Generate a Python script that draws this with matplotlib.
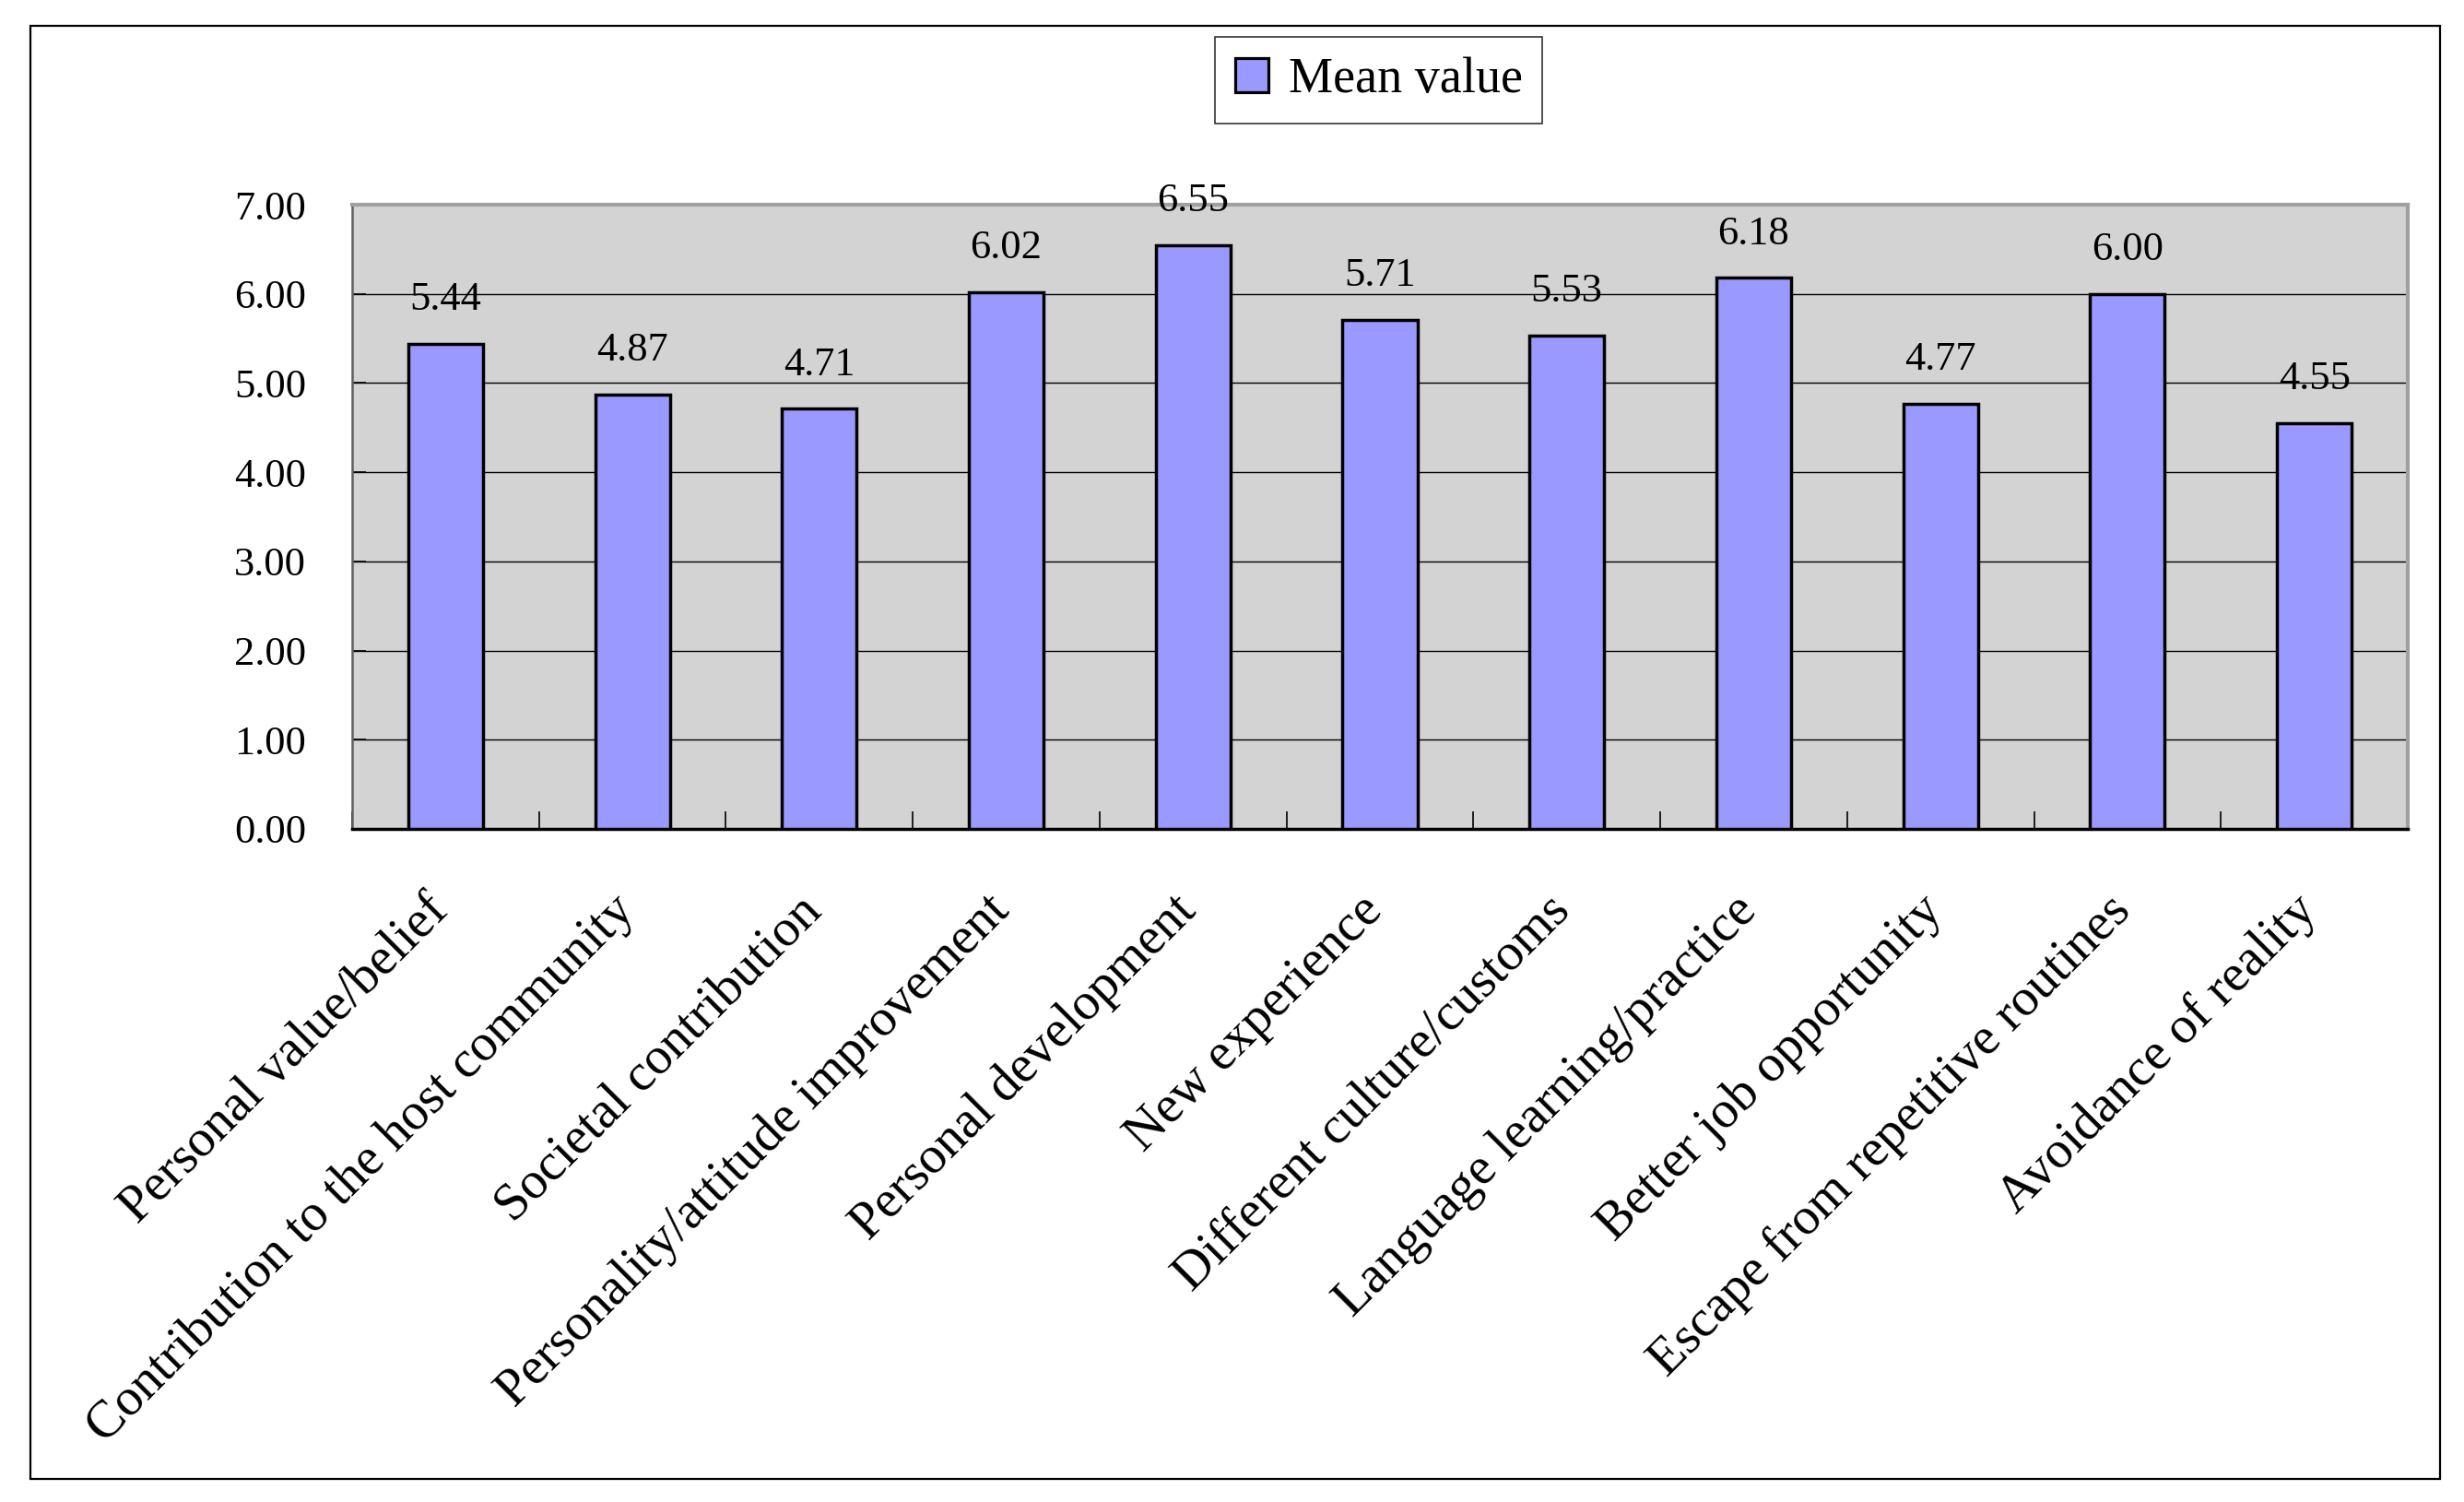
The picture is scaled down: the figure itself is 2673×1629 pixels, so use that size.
import matplotlib
matplotlib.use("Agg")
import matplotlib.pyplot as plt
from matplotlib.patches import Rectangle, Patch
import numpy as np

categories = [
    "Personal value/belief",
    "Contribution to the host community",
    "Societal contribution",
    "Personality/attitude improvement",
    "Personal development",
    "New experience",
    "Different culture/customs",
    "Language learning/practice",
    "Better job opportunity",
    "Escape from repetitive routines",
    "Avoidance of reality",
]
mean_values = [5.44, 4.87, 4.71, 6.02, 6.55, 5.71, 5.53, 6.18, 4.77, 6.00, 4.55]
y_ticks = [0, 1, 2, 3, 4, 5, 6, 7]
series_name = "Mean value"

plt.rcParams['font.family'] = ['Liberation Serif', 'DejaVu Serif']

W, H = 2673, 1629
fig = plt.figure(figsize=(W / 100, H / 100), dpi=100)

# outer chart border
fig.patches.append(Rectangle((33 / W, 1 - 1604 / H), (2647 - 33) / W, (1604 - 28) / H,
                             transform=fig.transFigure, fill=False, edgecolor='black',
                             linewidth=1.6, zorder=0))

ax = fig.add_axes([382 / W, 1 - 899 / H, (2612 - 382) / W, (899 - 222) / H])
ax.set_facecolor('#D3D3D3')

x = np.arange(len(categories))
bars = ax.bar(x, mean_values, width=0.4, color='#9999FF', edgecolor='black',
              linewidth=2.5, zorder=3)

for xi, v in zip(x, mean_values):
    ax.annotate(f"{v:.2f}", (xi, v), xytext=(0, 20), textcoords='offset points',
                ha='center', va='bottom', fontsize=32, zorder=4)

ax.set_xlim(-0.5, len(categories) - 0.5)
ax.set_ylim(0, 7)
ax.set_yticks(y_ticks)
ax.set_yticklabels([f"{t:.2f}" for t in y_ticks], fontsize=32)
ax.yaxis.grid(True, color='black', linewidth=1.0, zorder=1)
ax.set_axisbelow(True)

ax.set_xticks(x)
ax.set_xticklabels([])
ax.tick_params(axis='x', which='major', length=0)
for xi, lab in zip(x, categories):
    ax.annotate(lab, (xi, 0), xycoords=('data', 'axes fraction'),
                xytext=(-17, -45), textcoords='offset points',
                rotation=45, ha='right', va='top', rotation_mode='anchor',
                fontsize=41, annotation_clip=False)

ax.set_xticks(np.arange(-0.5, len(categories)), minor=True)
ax.tick_params(axis='x', which='minor', direction='in', length=14, width=1.2, color='black')
ax.tick_params(axis='y', direction='in', length=11, width=1.2, color='black', pad=36)

for s in ['top', 'right']:
    ax.spines[s].set_color('#A0A0A0')
    ax.spines[s].set_linewidth(3.0)
ax.spines['left'].set_color('#606060')
ax.spines['left'].set_linewidth(1.8)
ax.spines['bottom'].set_color('black')
ax.spines['bottom'].set_linewidth(2.5)

handle = Patch(facecolor='#9999FF', edgecolor='black', linewidth=2.3)
leg = fig.legend([handle], [series_name], loc='upper left',
                 bbox_to_anchor=(1318 / W, 1 - 40 / H), fontsize=39,
                 frameon=True, fancybox=False, shadow=False,
                 handlelength=0.67, handleheight=0.67, handletextpad=0.4,
                 borderpad=0.4, borderaxespad=0)
leg.get_frame().set_edgecolor('black')
leg.get_frame().set_linewidth(1.2)

fig.savefig("out.png", dpi=100, facecolor='white')
